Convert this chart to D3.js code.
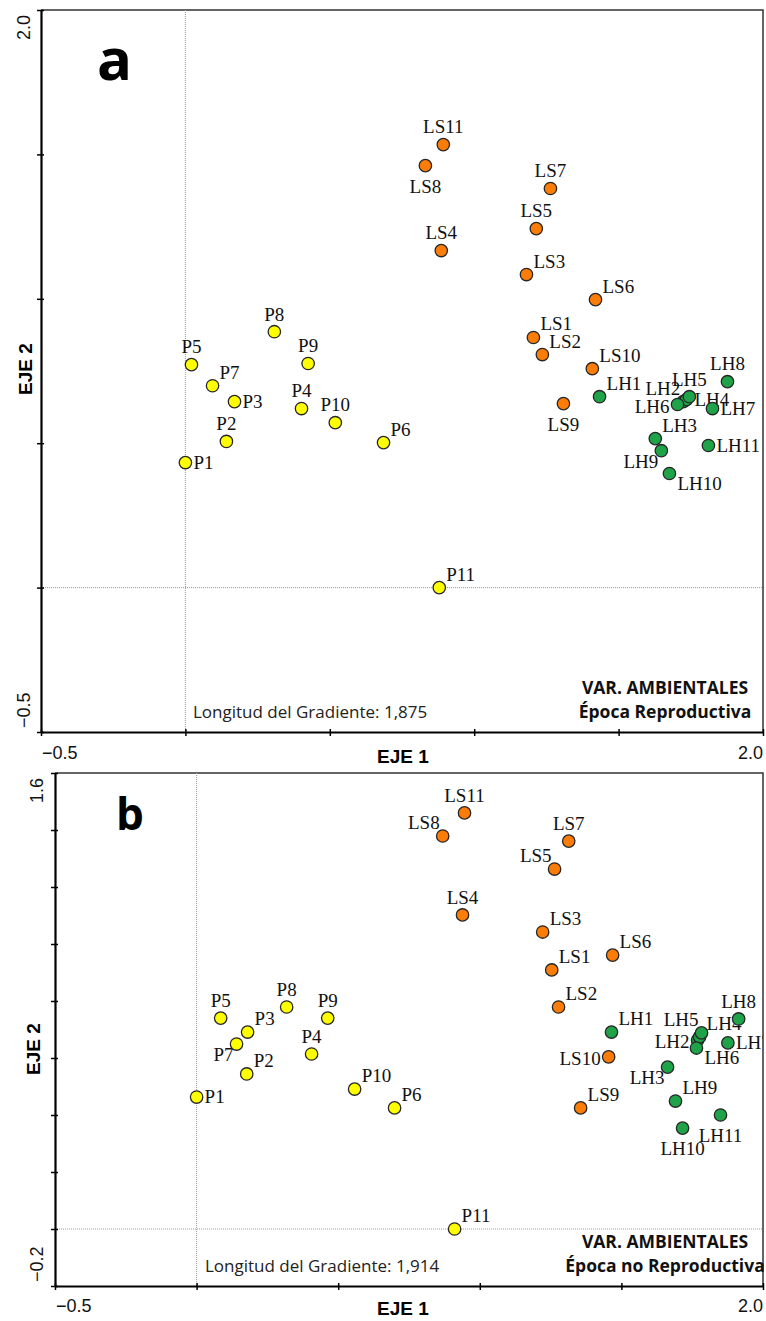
<!DOCTYPE html>
<html>
<head>
<meta charset="utf-8">
<script src="https://cdn.jsdelivr.net/npm/d3@7"></script>
<style>
  html, body { margin: 0; padding: 0; background: #fff; }
  svg { display: block; }
</style>
</head>
<body>
<svg id="chart" width="766" height="1321"></svg>
<script>
// site numbers 1..11, three groups per panel
var sites = ["1", "2", "3", "4", "5", "6", "7", "8", "9", "10", "11"];

// panel a - Época Reproductiva
var aPx = [0.000, 0.142, 0.170, 0.402, 0.021, 0.686, 0.094, 0.308, 0.425, 0.519, 0.879];
var aPy = [0.433, 0.506, 0.644, 0.620, 0.772, 0.502, 0.699, 0.886, 0.776, 0.571, 0.000];
var aLSx = [1.205, 1.236, 1.181, 0.886, 1.215, 1.420, 1.264, 0.831, 1.309, 1.409, 0.893];
var aLSy = [0.866, 0.807, 1.084, 1.167, 1.243, 0.997, 1.382, 1.461, 0.637, 0.758, 1.534];
var aLHx = [1.434, 1.724, 1.627, 1.735, 1.745, 1.704, 1.825, 1.877, 1.648, 1.676, 1.811];
var aLHy = [0.661, 0.644, 0.516, 0.651, 0.661, 0.634, 0.620, 0.713, 0.474, 0.395, 0.492];

// panel b - Época no Reproductiva
var bPx = [0.000, 0.177, 0.180, 0.406, 0.085, 0.699, 0.141, 0.318, 0.463, 0.558, 0.911];
var bPy = [0.463, 0.544, 0.691, 0.614, 0.740, 0.425, 0.649, 0.779, 0.740, 0.491, 0.000];
var bLSx = [1.254, 1.278, 1.222, 0.939, 1.264, 1.469, 1.314, 0.869, 1.356, 1.455, 0.946];
var bLSy = [0.909, 0.779, 1.042, 1.102, 1.263, 0.961, 1.361, 1.379, 0.425, 0.604, 1.460];
var bLHx = [1.465, 1.769, 1.663, 1.776, 1.783, 1.765, 1.876, 1.914, 1.691, 1.716, 1.850];
var bLHy = [0.691, 0.663, 0.568, 0.674, 0.688, 0.635, 0.653, 0.737, 0.449, 0.354, 0.400];

// label side for each point (compass)
var aPpos  = ["e", "n", "e", "n", "n", "ne", "ne", "n", "n", "n", "ne"];
var aLSpos = ["ne", "ne", "ne", "n", "n", "ne", "n", "s", "s", "ne", "n"];
var aLHpos = ["ne", "nw", "ne", "e", "n", "w", "e", "n", "sw", "se", "e"];
var bPpos  = ["e", "ne", "ne", "n", "n", "ne", "sw", "n", "n", "ne", "ne"];
var bLSpos = ["ne", "ne", "ne", "n", "nw", "ne", "n", "nw", "ne", "w", "n"];
var bLHpos = ["ne", "w", "sw", "ne", "nw", "se", "e", "n", "ne", "s", "s"];

var xDomain = [-0.5, 2.0];
var aYDomain = [-0.5, 2.0], aYTicks = [-0.5, 0, 0.5, 1.0, 1.5, 2.0];
var bYDomain = [-0.2, 1.6], bYTicks = [-0.2, 0, 0.2, 0.4, 0.6, 0.8, 1.0, 1.2, 1.4, 1.6];
var xTicks = [-0.5, 0, 0.5, 1.0, 1.5, 2.0];

var colP = "#ffff00", colLS = "#fb7d07", colLH = "#1fa349";

var svg = d3.select("#chart");

function mk(prefix, xs, ys, pos, fill) {
  return sites.map(function(s, i) {
    return { name: prefix + s, x: xs[i], y: ys[i], pos: pos[i], fill: fill };
  });
}

var R = 6.2;
var off = {
  n:  [0, -R - 5, "middle"],
  s:  [0, 27, "middle"],
  e:  [8, 6, "start"],
  w:  [-8, 8, "end"],
  ne: [7, -7, "start"],
  nw: [-3, -7, "end"],
  se: [8, 16, "start"],
  sw: [-3, 17, "end"]
};

function panel(cfg) {
  var x = d3.scaleLinear().domain(xDomain).range([cfg.left, cfg.right]);
  var y = d3.scaleLinear().domain(cfg.yDomain).range([cfg.bottom, cfg.top]);
  var g = svg.append("g");

  var clipId = "clip" + cfg.letter;
  svg.append("clipPath").attr("id", clipId)
    .append("rect")
      .attr("x", cfg.left).attr("y", cfg.top)
      .attr("width", cfg.right - cfg.left).attr("height", cfg.bottom - cfg.top);

  // frame top / right
  g.append("path")
    .attr("d", "M" + cfg.left + "," + cfg.top + "H" + cfg.right + "V" + cfg.bottom)
    .attr("fill", "none").attr("stroke", "#333").attr("stroke-width", 1.5);

  // zero lines
  g.append("line")
    .attr("x1", x(0)).attr("x2", x(0)).attr("y1", cfg.top).attr("y2", cfg.bottom)
    .attr("stroke", "#9a9a9a").attr("stroke-width", 1).attr("stroke-dasharray", "1,1");
  g.append("line")
    .attr("x1", cfg.left).attr("x2", cfg.right).attr("y1", y(0)).attr("y2", y(0))
    .attr("stroke", "#9a9a9a").attr("stroke-width", 1).attr("stroke-dasharray", "1,1");

  // axes
  var ax = g.append("g")
    .attr("transform", "translate(0," + cfg.bottom + ")")
    .call(d3.axisBottom(x).tickValues(xTicks).tickFormat("").tickSizeInner(4).tickSizeOuter(0));
  ax.selectAll(".tick line").attr("y1", -3).attr("stroke-width", 1.5);
  ax.select(".domain").attr("stroke-width", 2.2).attr("stroke", "#000");

  var ay = g.append("g")
    .attr("transform", "translate(" + cfg.left + ",0)")
    .call(d3.axisLeft(y).tickValues(cfg.yTicks).tickFormat("").tickSizeInner(4).tickSizeOuter(0));
  ay.selectAll(".tick line").attr("x1", 3).attr("stroke-width", 1.5);
  ay.select(".domain").attr("stroke-width", 2.2).attr("stroke", "#000");

  // end tick labels
  var tickFont = "'Liberation Sans', Arial, sans-serif";
  g.append("text").text(d3.format(".1f")(xDomain[0]))
    .attr("x", x(xDomain[0]) + 1).attr("y", cfg.xLabelY)
    .attr("font-family", tickFont).attr("font-size", 18).attr("fill", "#111");
  g.append("text").text(d3.format(".1f")(xDomain[1]))
    .attr("x", x(xDomain[1])).attr("y", cfg.xLabelY).attr("text-anchor", "end")
    .attr("font-family", tickFont).attr("font-size", 18).attr("fill", "#111");
  g.append("text").text(d3.format(".1f")(cfg.yDomain[1]))
    .attr("transform", "translate(" + cfg.yLabelX + "," + (y(cfg.yDomain[1]) + 5) + ") rotate(-90)")
    .attr("text-anchor", "end")
    .attr("font-family", tickFont).attr("font-size", 18).attr("fill", "#111");
  g.append("text").text(d3.format(".1f")(cfg.yDomain[0]))
    .attr("transform", "translate(" + cfg.yLabelX + "," + (y(cfg.yDomain[0]) - 4) + ") rotate(-90)")
    .attr("text-anchor", "start")
    .attr("font-family", tickFont).attr("font-size", 18).attr("fill", "#111");

  // axis titles
  g.append("text").text("EJE 1")
    .attr("x", 403).attr("y", cfg.xTitleY).attr("text-anchor", "middle")
    .attr("font-family", tickFont).attr("font-weight", 700)
    .attr("font-size", 19).attr("fill", "#000");
  g.append("text").text("EJE 2")
    .attr("transform", "translate(" + cfg.yTitleX + "," + cfg.yTitleY + ") rotate(-90)")
    .attr("text-anchor", "middle")
    .attr("font-family", tickFont).attr("font-weight", 700)
    .attr("font-size", 19).attr("fill", "#000");

  // panel letter
  g.append("text").text(cfg.letter)
    .attr("x", cfg.letterX).attr("y", cfg.letterY)
    .attr("font-family", "'Open Sans', sans-serif").attr("font-weight", 700)
    .attr("font-size", cfg.letterSize).attr("fill", "#000");

  // notes
  g.append("text").text("Longitud del Gradiente: " + cfg.gradiente)
    .attr("x", cfg.noteX).attr("y", cfg.bottom - 14)
    .attr("font-family", "'Open Sans', sans-serif").attr("font-size", 17).attr("fill", "#222");
  g.append("text").text("VAR. AMBIENTALES")
    .attr("x", 665).attr("y", cfg.bottom - 38).attr("text-anchor", "middle")
    .attr("font-family", "'Open Sans', sans-serif").attr("font-weight", 700)
    .attr("font-size", 17.5).attr("fill", "#111");
  g.append("text").text(cfg.epoca)
    .attr("x", 665).attr("y", cfg.bottom - 14).attr("text-anchor", "middle")
    .attr("font-family", "'Open Sans', sans-serif").attr("font-weight", 700)
    .attr("font-size", 17.5).attr("fill", "#111");

  // points + labels
  var pts = g.append("g").attr("clip-path", "url(#" + clipId + ")");
  pts.selectAll("text.lbl")
    .data(cfg.points)
    .enter().append("text")
      .attr("class", "lbl")
      .attr("x", function(d) { return x(d.x) + off[d.pos][0]; })
      .attr("y", function(d) { return y(d.y) + off[d.pos][1]; })
      .attr("text-anchor", function(d) { return off[d.pos][2]; })
      .attr("font-family", "'Liberation Serif', 'Times New Roman', serif")
      .attr("font-size", 19).attr("fill", "#111")
      .text(function(d) { return d.name; });
  pts.selectAll("circle")
    .data(cfg.points)
    .enter().append("circle")
      .attr("cx", function(d) { return x(d.x); })
      .attr("cy", function(d) { return y(d.y); })
      .attr("r", R)
      .attr("fill", function(d) { return d.fill; })
      .attr("stroke", "#262626").attr("stroke-width", 1.3);
}

panel({
  letter: "a", left: 41, right: 763, top: 10, bottom: 732,
  yDomain: aYDomain, yTicks: aYTicks,
  xLabelY: 759, xTitleY: 763, yLabelX: 30, yTitleX: 32, yTitleY: 369,
  letterX: 97, letterY: 80, letterSize: 58,
  noteX: 193, gradiente: "1,875", epoca: "Época Reproductiva",
  points: mk("P", aPx, aPy, aPpos, colP)
    .concat(mk("LS", aLSx, aLSy, aLSpos, colLS))
    .concat(mk("LH", aLHx, aLHy, aLHpos, colLH))
});

panel({
  letter: "b", left: 55, right: 763, top: 773, bottom: 1286,
  yDomain: bYDomain, yTicks: bYTicks,
  xLabelY: 1312, xTitleY: 1315, yLabelX: 43, yTitleX: 40, yTitleY: 1049,
  letterX: 116, letterY: 830, letterSize: 44,
  noteX: 205, gradiente: "1,914", epoca: "Época no Reproductiva",
  points: mk("P", bPx, bPy, bPpos, colP)
    .concat(mk("LS", bLSx, bLSy, bLSpos, colLS))
    .concat(mk("LH", bLHx, bLHy, bLHpos, colLH))
});
</script>
</body>
</html>
